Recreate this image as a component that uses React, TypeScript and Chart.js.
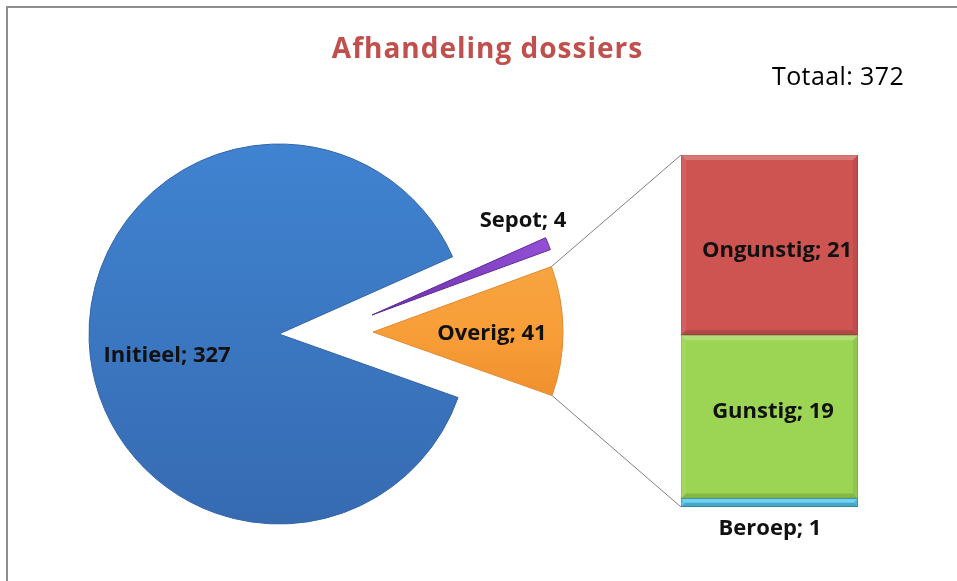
import React, { useEffect, useRef } from "react";
import { Chart, registerables } from "chart.js";

Chart.register(...registerables);

// ---------- data ----------
const pieLabels = ["Sepot", "Overig", "Initieel"];
const pieValues = [4, 41, 327];
const detailSlice = "Overig";
const barLabels = ["Beroep", "Gunstig", "Ongunstig"];
const barValues = [1, 19, 21];
const chartTitle = "Afhandeling dossiers";
const totalText = "Totaal";

// ---------- style / layout ----------
const W = 957;
const H = 581;
const PIE_RADIUS = 190;
const PIE_ROTATION = 66;
const PIE_PADDING = { left: 0, right: 399, top: 87, bottom: 0 };
const BAR_PADDING = { left: 681, right: 99, top: 155, bottom: 74 };
const EXPLODE: Record<string, [number, number]> = {
  Sepot: [93, -19],
  Overig: [94, -2],
  Initieel: [0, 0],
};
const LABEL_NUDGE: Record<string, [number, number]> = {
  Initieel: [-17, 24.5],
  Overig: [24, 8.5],
  Sepot: [63, -52],
  Ongunstig: [7.5, 11.5],
  Gunstig: [3.5, 1],
  Beroep: [0.5, 32.3],
};
const LABEL_FONT = "bold 22px 'Open Sans'";
const BEVEL = 5;
const BAR_FILL: Record<string, string> = {
  Ongunstig: "#CD5451",
  Gunstig: "#9BD553",
  Beroep: "#4EC5EA",
};
const BAR_BORDER: Record<string, string> = {
  Ongunstig: "#B04542",
  Gunstig: "#86B846",
  Beroep: "#3190B4",
};
const PIE_BORDER: Record<string, string> = {
  Sepot: "#5E2A96",
  Overig: "#E08A30",
  Initieel: "#3565A8",
};

export default function App() {
  const pieRef = useRef<HTMLCanvasElement>(null);
  const barRef = useRef<HTMLCanvasElement>(null);

  useEffect(() => {
    const pc = pieRef.current!;
    const bc = barRef.current!;
    const pctx = pc.getContext("2d")!;

    const gInit = pctx.createLinearGradient(0, 144, 0, 524);
    gInit.addColorStop(0, "#4083D0");
    gInit.addColorStop(1, "#366BB2");
    const gSep = pctx.createLinearGradient(370, 315, 550, 245);
    gSep.addColorStop(0, "#6A2EAA");
    gSep.addColorStop(1, "#9350D6");
    const gOv = pctx.createLinearGradient(0, 268, 0, 396);
    gOv.addColorStop(0, "#F7A440");
    gOv.addColorStop(0.5, "#F89E38");
    gOv.addColorStop(1, "#F0902E");
    const PIE_FILL: Record<string, any> = { Sepot: gSep, Overig: gOv, Initieel: gInit };

    const explodePlugin = {
      id: "explode",
      afterDatasetUpdate(chart: any) {
        const meta = chart.getDatasetMeta(0);
        meta.data.forEach((arc: any, i: number) => {
          const d = EXPLODE[pieLabels[i]] || [0, 0];
          arc.x += d[0];
          arc.y += d[1];
        });
      },
    };

    const pieLabelPlugin = {
      id: "pieLabels",
      afterDatasetsDraw(chart: any) {
        const ctx = chart.ctx;
        const meta = chart.getDatasetMeta(0);
        ctx.save();
        ctx.font = LABEL_FONT;
        ctx.fillStyle = "#111";
        ctx.textAlign = "center";
        ctx.textBaseline = "alphabetic";
        meta.data.forEach((arc: any, i: number) => {
          const mid = (arc.startAngle + arc.endAngle) / 2;
          const r = arc.outerRadius / 2;
          const n = LABEL_NUDGE[pieLabels[i]] || [0, 0];
          const x = arc.x + Math.cos(mid) * r + n[0];
          const y = arc.y + Math.sin(mid) * r + n[1];
          ctx.fillText(`${pieLabels[i]}; ${pieValues[i]}`, x, y);
        });
        ctx.restore();
      },
    };

    const pie = new Chart(pc, {
      type: "pie",
      data: {
        labels: pieLabels,
        datasets: [
          {
            data: pieValues,
            backgroundColor: pieLabels.map((l) => PIE_FILL[l]),
            borderColor: pieLabels.map((l) => PIE_BORDER[l]),
            borderWidth: 1,
            radius: PIE_RADIUS,
            rotation: PIE_ROTATION,
          } as any,
        ],
      },
      options: {
        responsive: false,
        animation: false,
        events: [],
        rotation: PIE_ROTATION,
        radius: PIE_RADIUS,
        layout: { padding: PIE_PADDING },
        plugins: {
          legend: { display: false },
          tooltip: { enabled: false },
          title: { display: false },
        },
      } as any,
      plugins: [explodePlugin, pieLabelPlugin],
    });

    const barTotal = barValues.reduce((a, b) => a + b, 0);

    const connectorPlugin = {
      id: "connectors",
      beforeDatasetsDraw(chart: any) {
        const ctx = chart.ctx;
        const idx = pieLabels.indexOf(detailSlice);
        const arc: any = pie.getDatasetMeta(0).data[idx];
        if (!arc) return;
        const R = arc.outerRadius;
        const top: any = chart.getDatasetMeta(barLabels.length - 1).data[0];
        const bottom: any = chart.getDatasetMeta(0).data[0];
        const left = top.x - top.width / 2;
        ctx.save();
        ctx.strokeStyle = "#7F7F7F";
        ctx.lineWidth = 1;
        ctx.beginPath();
        ctx.moveTo(arc.x + R * Math.cos(arc.startAngle), arc.y + R * Math.sin(arc.startAngle));
        ctx.lineTo(left, top.y);
        ctx.moveTo(arc.x + R * Math.cos(arc.endAngle), arc.y + R * Math.sin(arc.endAngle));
        ctx.lineTo(left, bottom.base);
        ctx.stroke();
        ctx.restore();
      },
    };

    const bevelPlugin = {
      id: "bevel",
      afterDatasetsDraw(chart: any) {
        const ctx = chart.ctx;
        ctx.save();
        barLabels.forEach((_l, i) => {
          const el: any = chart.getDatasetMeta(i).data[0];
          const l = el.x - el.width / 2;
          const r = el.x + el.width / 2;
          const t = Math.min(el.y, el.base);
          const b = Math.max(el.y, el.base);
          const bv = Math.min(BEVEL, (b - t) / 2);
          const poly = (pts: number[][], fill: string) => {
            ctx.beginPath();
            ctx.moveTo(pts[0][0], pts[0][1]);
            for (let k = 1; k < pts.length; k++) ctx.lineTo(pts[k][0], pts[k][1]);
            ctx.closePath();
            ctx.fillStyle = fill;
            ctx.fill();
          };
          poly([[l, t], [r, t], [r - bv, t + bv], [l + bv, t + bv]], "rgba(255,255,255,0.22)");
          poly([[l, t], [l + bv, t + bv], [l + bv, b - bv], [l, b]], "rgba(255,255,255,0.08)");
          poly([[r, t], [r, b], [r - bv, b - bv], [r - bv, t + bv]], "rgba(0,0,0,0.07)");
          poly([[l, b], [l + bv, b - bv], [r - bv, b - bv], [r, b]], "rgba(0,0,0,0.14)");
        });
        ctx.restore();
      },
    };

    const barLabelPlugin = {
      id: "barLabels",
      afterDatasetsDraw(chart: any) {
        const ctx = chart.ctx;
        ctx.save();
        ctx.font = LABEL_FONT;
        ctx.fillStyle = "#111";
        ctx.textAlign = "center";
        ctx.textBaseline = "alphabetic";
        barLabels.forEach((l, i) => {
          const el: any = chart.getDatasetMeta(i).data[0];
          const n = LABEL_NUDGE[l] || [0, 0];
          const cy = (el.y + el.base) / 2;
          ctx.fillText(`${l}; ${barValues[i]}`, el.x + n[0], cy + n[1]);
        });
        ctx.restore();
      },
    };

    const bar = new Chart(bc, {
      type: "bar",
      data: {
        labels: [detailSlice],
        datasets: barLabels.map((l, i) => ({
          label: l,
          data: [barValues[i]],
          backgroundColor: BAR_FILL[l],
          borderColor: BAR_BORDER[l],
          borderWidth: 1,
          borderSkipped: false,
          barPercentage: 1,
          categoryPercentage: 1,
        })),
      },
      options: {
        responsive: false,
        animation: false,
        events: [],
        layout: { padding: BAR_PADDING },
        scales: {
          x: { display: false, stacked: true },
          y: { display: false, stacked: true, min: 0, max: barTotal },
        },
        plugins: {
          legend: { display: false },
          tooltip: { enabled: false },
          title: { display: false },
        },
      } as any,
      plugins: [connectorPlugin, bevelPlugin, barLabelPlugin],
    });

    return () => {
      bar.destroy();
      pie.destroy();
    };
  }, []);

  const total = pieValues.reduce((a, b) => a + b, 0);

  return (
    <div
      style={{
        position: "fixed",
        left: 0,
        top: 0,
        width: W,
        height: H,
        background: "#fff",
        overflow: "hidden",
      }}
    >
      <div
        style={{
          position: "absolute",
          left: 6,
          top: 6,
          right: -10,
          bottom: -10,
          borderTop: "2px solid #8E8E8E",
          borderLeft: "2px solid #8E8E8E",
        }}
      />
      <canvas ref={pieRef} width={W} height={H} style={{ position: "absolute", left: 0, top: 0 }} />
      <canvas ref={barRef} width={W} height={H} style={{ position: "absolute", left: 0, top: 0 }} />
      <div
        style={{
          position: "absolute",
          left: 287.5,
          width: 400,
          top: 33,
          textAlign: "center",
          font: "bold 28px 'Open Sans'",
          lineHeight: "28px",
          letterSpacing: "1px",
          color: "#C0504D",
          whiteSpace: "nowrap",
        }}
      >
        {chartTitle}
      </div>
      <div
        style={{
          position: "absolute",
          left: 772,
          top: 63,
          font: "25px 'Open Sans'",
          lineHeight: "25px",
          letterSpacing: "0.4px",
          color: "#000",
          whiteSpace: "nowrap",
        }}
      >
        {`${totalText}: ${total}`}
      </div>
    </div>
  );
}
